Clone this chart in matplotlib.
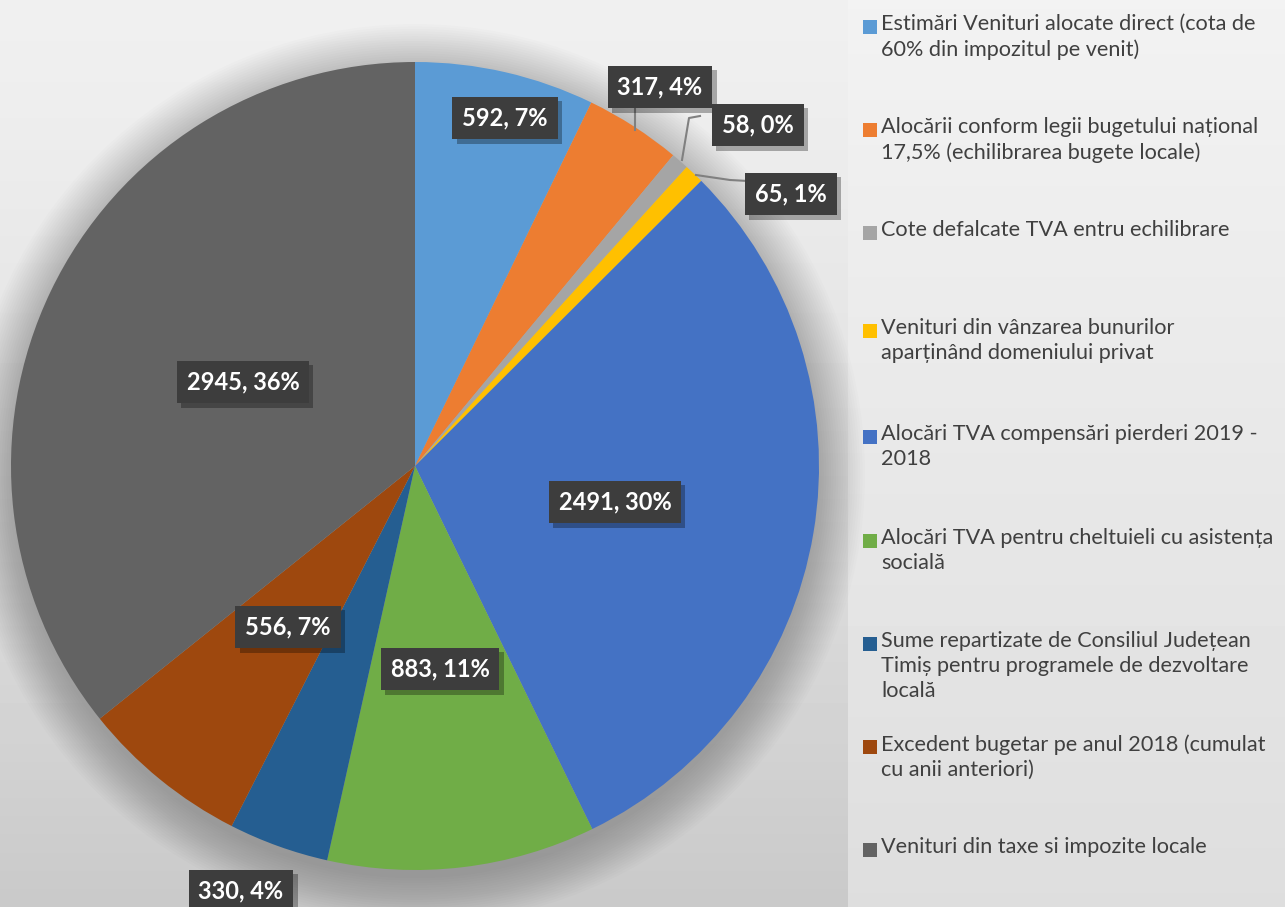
import numpy as np
import matplotlib.pyplot as plt
import matplotlib.patheffects as pe
from matplotlib.patches import Rectangle, Circle

categories = [
    'Estimări Venituri alocate direct (cota de\n60% din impozitul pe venit)',
    'Alocării conform legii bugetului național\n17,5% (echilibrarea bugete locale)',
    'Cote defalcate TVA entru echilibrare',
    'Venituri din vânzarea bunurilor\naparținând domeniului privat',
    'Alocări TVA compensări pierderi 2019 -\n2018',
    'Alocări TVA pentru cheltuieli cu asistența\nsocială',
    'Sume repartizate de Consiliul Județean\nTimiș pentru programele de dezvoltare\nlocală',
    'Excedent bugetar pe anul 2018 (cumulat\ncu anii anteriori)',
    'Venituri din taxe si impozite locale',
]
values = [592, 317, 58, 65, 2491, 883, 330, 556, 2945]
pct_labels = ['7%', '4%', '0%', '1%', '30%', '11%', '4%', '7%', '36%']
colors = ['#5B9BD5', '#ED7D31', '#A5A5A5', '#FFC000', '#4472C4',
          '#70AD47', '#255E91', '#9E480E', '#636363']

W, H = 1285, 907
CX, CY, R = 415, 466, 404   # pie centre / radius in pixels

def d(px, py):
    return (px - CX) / R, (CY - py) / R

# label centres (pixels)
label_pos = [(505, 118), (660, 87), (758, 125), (791, 194), (615, 502),
             (440, 669), (241, 891), (288, 627), (243, 382)]
leaders = [None,
           [(635, 103), (635, 130)],
           [(700, 116), (689, 118), (682, 160)],
           [(696, 175), (730, 180), (748, 181)],
           None, None, None, None, None]
legend_y = [27, 130, 233, 331, 437, 541, 644, 747, 850]

plt.rcParams['font.family'] = ['Lato', 'DejaVu Sans']
fig = plt.figure(figsize=(W / 100, H / 100), dpi=100)

# background gradient
bg = fig.add_axes([0, 0, 1, 1], zorder=-2)
yy = np.linspace(0, 1, 200)[:, None]
xx = np.linspace(0, 1, 300)[None, :]
g = 0.94 - 0.15 * yy ** 1.3 + 0.0 * xx
legend_zone = xx > 848 / W
g = np.where(legend_zone, 0.95 - 0.08 * yy + 0 * xx, g)
bg.imshow(g, cmap='gray', vmin=0, vmax=1, extent=[0, 1, 0, 1], aspect='auto', origin='upper')
bg.axis('off')

ax = fig.add_axes([0, 0, 1, 1])

# soft shadow under the pie
for i in range(20):
    ax.add_patch(Circle((0.0, -0.02), 1 + 0.006 * i, color='black',
                        alpha=0.012, lw=0, zorder=0))

ax.pie(values, colors=colors, startangle=90, counterclock=False, radius=1,
       wedgeprops=dict(linewidth=0), frame=True)
ax.set_xlim(-CX / R, (W - CX) / R)
ax.set_ylim((CY - H) / R, CY / R)
ax.axis('off')

for line in leaders:
    if line:
        pts = [d(*p) for p in line]
        ax.plot([p[0] for p in pts], [p[1] for p in pts], color='#808080', lw=1.5, zorder=3)

for v, p, pos in zip(values, pct_labels, label_pos):
    x, y = d(*pos)
    t = ax.text(x, y, f'{v}, {p}', ha='center', va='center', color='white',
                fontsize=17, fontweight='bold', zorder=5,
                bbox=dict(boxstyle='square,pad=0.42', fc='#3d3d3d', ec='none'))
    t.get_bbox_patch().set_path_effects([
        pe.withSimplePatchShadow(offset=(3, -3), shadow_rgbFace='black', alpha=0.3)])

# legend
for c, lab, ly in zip(colors, categories, legend_y):
    fig.patches.append(Rectangle((863 / W, 1 - (ly + 7) / H), 14 / W, 14 / H,
                                 transform=fig.transFigure, color=c, lw=0))
    fig.text(881 / W, 1 - (ly - 13) / H, lab, ha='left', va='top', fontsize=15.6,
             color='#404040', linespacing=1.3)

fig.savefig('out.png', dpi=100)
